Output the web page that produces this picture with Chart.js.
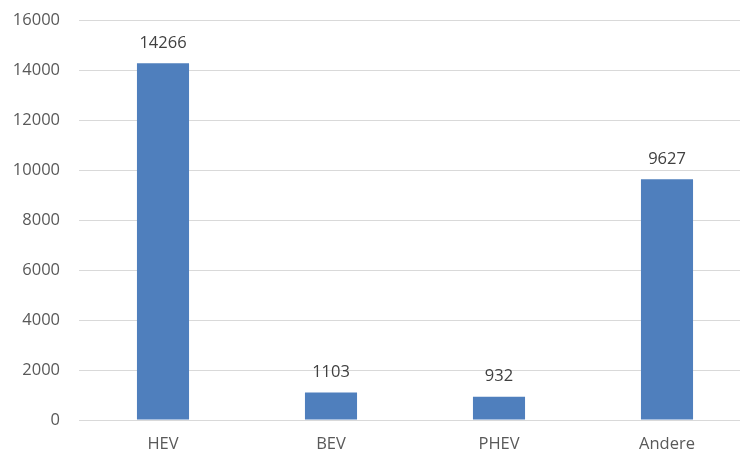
<!DOCTYPE html>
<html>
<head>
<meta charset="utf-8">
<script src="https://cdn.jsdelivr.net/npm/chart.js@4"></script>
<style>
    html, body { margin: 0; padding: 0; background: #fff; overflow: hidden; }
    #wrap { width: 751px; height: 454px; position: relative; }
</style>
</head>
<body>
<div id="wrap"><canvas id="typeChart"></canvas></div>
<script>
const categories = ['HEV', 'BEV', 'PHEV', 'Andere'];
const counts = [14266, 1103, 932, 9627];
const yTicks = [0, 2000, 4000, 6000, 8000, 10000, 12000, 14000, 16000];

const textFont = { family: "'Open Sans', sans-serif", size: 16.5 };

// Writes each bar's value above it
const valueLabels = {
    id: 'valueLabels',
    afterDatasetsDraw(chart) {
        const ctx = chart.ctx;
        const meta = chart.getDatasetMeta(0);
        ctx.save();
        ctx.font = `${textFont.size}px ${textFont.family}`;
        ctx.fillStyle = '#404040';
        ctx.textAlign = 'center';
        ctx.textBaseline = 'middle';
        meta.data.forEach((bar, i) => {
            ctx.fillText(chart.data.datasets[0].data[i], bar.x, bar.y - 20);
        });
        ctx.restore();
    }
};

new Chart(document.getElementById('typeChart'), {
    type: 'bar',
    data: {
        labels: categories,
        datasets: [{
            data: counts,
            backgroundColor: '#4f7fbd',
            barPercentage: 0.31,
            categoryPercentage: 1
        }]
    },
    options: {
        responsive: true,
        maintainAspectRatio: false,
        animation: false,
        layout: { padding: { top: 20, right: 0, left: 0, bottom: 0 } },
        plugins: {
            legend: { display: false },
            tooltip: { enabled: false }
        },
        scales: {
            x: {
                grid: { display: false, drawTicks: false },
                border: { display: false },
                ticks: { color: '#595959', font: textFont, padding: 14 },
                afterFit(scale) { scale.height = 34; }
            },
            y: {
                min: 0,
                max: 16000,
                afterBuildTicks(scale) { scale.ticks = yTicks.map(v => ({ value: v })); },
                grid: { color: '#d9d9d9', lineWidth: 1, drawTicks: false },
                border: { display: false },
                ticks: {
                    color: '#595959',
                    font: textFont,
                    padding: 19,
                    callback: v => String(v)
                },
                afterFit(scale) {
                    scale.width = 79;
                    scale.paddingTop = 0;
                    scale.paddingBottom = 0;
                }
            }
        }
    },
    plugins: [valueLabels]
});
</script>
</body>
</html>
